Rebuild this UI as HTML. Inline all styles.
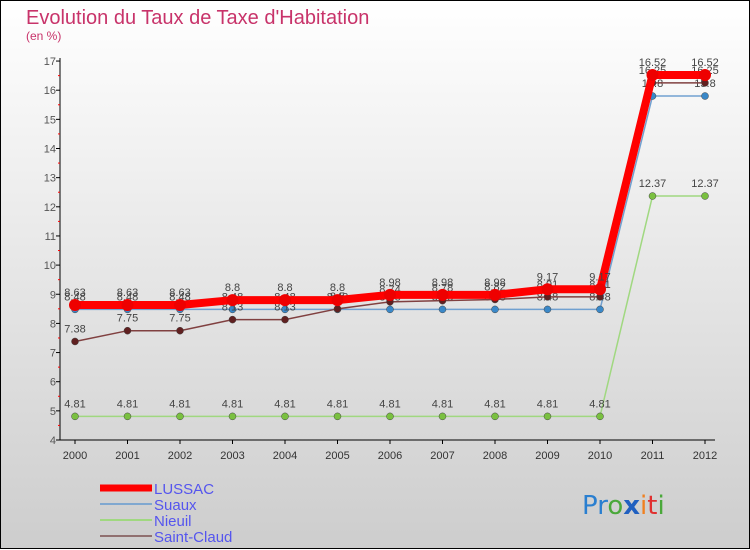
<!DOCTYPE html>
<html><head><meta charset="utf-8"><style>
body{margin:0;width:750px;height:550px;overflow:hidden;font-family:"Liberation Sans",sans-serif}
svg{display:block}
</style></head><body>
<svg id="c" width="750" height="550" xmlns="http://www.w3.org/2000/svg">
<defs><linearGradient id="bg" x1="0" y1="0" x2="0" y2="1"><stop offset="0" stop-color="#ffffff"/><stop offset="1" stop-color="#cdcdcd"/></linearGradient></defs>
<rect x="0.5" y="0.5" width="749" height="548" fill="url(#bg)" stroke="#000"/>
<text x="26" y="24" font-size="20" fill="#c8336a">Evolution du Taux de Taxe d'Habitation</text>
<text x="26" y="40" font-size="12" fill="#c8336a">(en %)</text>
<g id="axes"></g><g id="series"></g><g id="legend"></g>
<text x="582" y="514" font-size="26" font-family="'DejaVu Sans',sans-serif"><tspan fill="#2a7fd0">Pr</tspan><tspan fill="#4aa83a">o</tspan><tspan fill="#2060c0" font-weight="bold">x</tspan><tspan fill="#f08020">i</tspan><tspan fill="#e03030">t</tspan><tspan fill="#4aa83a">i</tspan></text>
</svg>
<script>
const years=[2000,2001,2002,2003,2004,2005,2006,2007,2008,2009,2010,2011,2012];
const lussac=[8.63,8.63,8.63,8.8,8.8,8.8,8.98,8.98,8.98,9.17,9.17,16.52,16.52];
const suaux=[8.48,8.48,8.48,8.48,8.48,8.48,8.48,8.48,8.48,8.48,8.48,15.8,15.8];
const nieuil=[4.81,4.81,4.81,4.81,4.81,4.81,4.81,4.81,4.81,4.81,4.81,12.37,12.37];
const saintClaud=[7.38,7.75,7.75,8.13,8.13,8.5,8.74,8.78,8.82,8.91,8.91,16.25,16.25];
const yTicks=[4,5,6,7,8,9,10,11,12,13,14,15,16,17];
const NS="http://www.w3.org/2000/svg";
const x=i=>75+i*52.5, y=v=>440-(v-4)*29.15;
function mk(tag,at,par){const e=document.createElementNS(NS,tag);for(const k in at)e.setAttribute(k,at[k]);par.appendChild(e);return e;}
const ax=document.getElementById('axes');
const yl=mk('line',{x1:60,y1:58,x2:60,y2:440,stroke:'#000'},ax);

const xl=mk('line',{x1:60,y1:440,x2:715,y2:440,stroke:'#000'},ax);

yTicks.forEach(t=>{const tx=mk('text',{x:56,y:y(t)+4,'font-size':11,fill:'#555','text-anchor':'end'},ax);tx.textContent=t;

mk('line',{x1:56,y1:y(t),x2:60,y2:y(t),stroke:'#000'},ax);
if(t<17)mk('line',{x1:58,y1:y(t+0.5),x2:60,y2:y(t+0.5),stroke:'#f00'},ax);});
years.forEach((yr,i)=>{const tx=mk('text',{x:x(i),y:459,'font-size':11,fill:'#333','text-anchor':'middle'},ax);tx.textContent=yr;

mk('line',{x1:x(i),y1:440,x2:x(i),y2:444,stroke:'#000'},ax);});
const sg=document.getElementById('series');
const defs=[[nieuil,'#a0d880','#7ac040',1.5,3.5,'nieuil'],[suaux,'#70a0d0','#3a88c8',1.5,3.5,'suaux'],[saintClaud,'#804040','#602020',1.5,3.5,'saint-claud'],[lussac,'#f00','#e00',8,6,'lussac']];
defs.forEach(([d,lc,dc,w,r,n])=>{const g=mk('g',{},sg);
const p=mk('polyline',{points:d.map((v,i)=>x(i)+','+y(v)).join(' '),fill:'none',stroke:lc,'stroke-width':w},g);

d.forEach((v,i)=>{const c=mk('circle',{cx:x(i),cy:y(v),r:r,fill:dc,stroke:n==='lussac'?'none':'#444','stroke-width':0.5},g);

const t=mk('text',{x:x(i),y:y(v)-9,'font-size':11,fill:'#444','text-anchor':'middle'},g);t.textContent=String(v).replace('.','.');
});});
const lg=document.getElementById('legend');
[['LUSSAC','#f00',7,493],['Suaux','#80a8d0',2,509],['Nieuil','#a0d880',2,525],['Saint-Claud','#907070',2,541]].forEach(([n,c,w,yy])=>{
const l=mk('line',{x1:100,y1:yy-5,x2:152,y2:yy-5,stroke:c,'stroke-width':w},lg);

const t=mk('text',{x:154,y:yy+1,'font-size':15,fill:'#5555ee'},lg);t.textContent=n;
});
</script>
</body></html>
